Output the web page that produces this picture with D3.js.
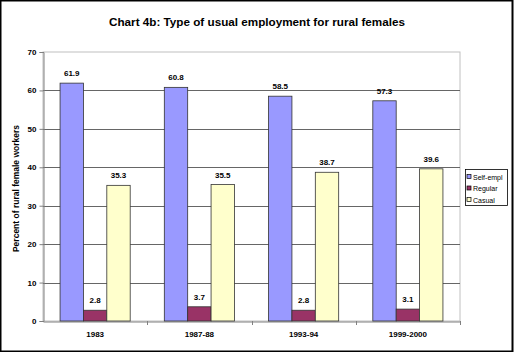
<!DOCTYPE html>
<html>
<head>
<meta charset="utf-8">
<script src="https://cdn.jsdelivr.net/npm/d3@7"></script>
<style>
  body { margin: 0; background: #fff; }
  text { font-family: Arial, "Liberation Sans", sans-serif; }
</style>
</head>
<body>
<div id="chart"></div>
<script>
// data
var periods = ["1983", "1987-88", "1993-94", "1999-2000"];
var seriesNames = ["Self-empl", "Regular", "Casual"];
var selfEmployed = [61.9, 60.8, 58.5, 57.3];
var regular = [2.8, 3.7, 2.8, 3.1];
var casual = [35.3, 35.5, 38.7, 39.6];
var yTicks = [0, 10, 20, 30, 40, 50, 60, 70];
var colors = ["#9999ff", "#993366", "#ffffcc"];

var W = 514, H = 352;
var plot = { left: 43, right: 460, top: 52, bottom: 321 };

var svg = d3.select("#chart").append("svg")
    .attr("width", W)
    .attr("height", H);

// outer frame
svg.append("rect")
    .attr("x", 0.5).attr("y", 0.5)
    .attr("width", W - 2).attr("height", H - 1)
    .attr("fill", "#fff")
    .attr("stroke", "#000")
    .attr("stroke-width", 2);

svg.append("text")
    .attr("x", 257)
    .attr("y", 26)
    .attr("text-anchor", "middle")
    .attr("font-size", "11.7px")
    .attr("font-weight", "bold")
    .text("Chart 4b: Type of usual employment for rural females");

var x0 = d3.scaleBand()
    .domain(periods)
    .range([plot.left, plot.right])
    .paddingInner(0)
    .paddingOuter(0);

var x1 = d3.scaleBand()
    .domain(seriesNames)
    .range([0, x0.bandwidth()])
    .paddingOuter(0.73)
    .paddingInner(0);

var y = d3.scaleLinear()
    .domain([0, 70])
    .range([plot.bottom, plot.top]);

// plot area border
svg.append("rect")
    .attr("x", plot.left).attr("y", plot.top)
    .attr("width", plot.right - plot.left)
    .attr("height", plot.bottom - plot.top)
    .attr("fill", "none")
    .attr("stroke", "#c0c0c0")
    .attr("stroke-width", 1);

// gridlines
svg.append("g").selectAll("line")
    .data(yTicks.filter(function (d) { return d > 0 && d < 70; }))
    .enter().append("line")
    .attr("x1", plot.left).attr("x2", plot.right)
    .attr("y1", function (d) { return Math.round(y(d)) + 0.5; })
    .attr("y2", function (d) { return Math.round(y(d)) + 0.5; })
    .attr("stroke", "#666")
    .attr("stroke-width", 1);

// y axis
var yAxis = svg.append("g")
    .attr("transform", "translate(" + (plot.left + 0.5) + ",0)")
    .call(d3.axisLeft(y).tickValues(yTicks).tickSize(4).tickPadding(3));
yAxis.select(".domain").attr("stroke", "#808080");
yAxis.selectAll(".tick line").attr("stroke", "#808080");
yAxis.selectAll("text")
    .attr("font-size", "8px")
    .attr("font-weight", "bold")
    .attr("fill", "#000");

// x axis
var xAxis = svg.append("g")
    .attr("transform", "translate(0," + (plot.bottom + 0.5) + ")")
    .call(d3.axisBottom(x0).tickSize(0).tickPadding(10));
xAxis.select(".domain").attr("stroke", "#808080");
xAxis.selectAll("text")
    .attr("font-size", "8px")
    .attr("font-weight", "bold")
    .attr("fill", "#000");
// category separators
svg.append("g").selectAll("line")
    .data(periods)
    .enter().append("line")
    .attr("x1", function (d) { return Math.round(x0(d) + x0.bandwidth()) + 0.5; })
    .attr("x2", function (d) { return Math.round(x0(d) + x0.bandwidth()) + 0.5; })
    .attr("y1", plot.bottom)
    .attr("y2", plot.bottom + 4)
    .attr("stroke", "#808080");

svg.append("text")
    .attr("transform", "translate(19," + ((plot.top + plot.bottom) / 2 + 2) + ") rotate(-90)")
    .attr("text-anchor", "middle")
    .attr("font-size", "8.5px")
    .attr("font-weight", "bold")
    .text("Percent of rural female workers");

var rows = periods.map(function (p, i) {
    return { period: p, values: [selfEmployed[i], regular[i], casual[i]] };
});

var groups = svg.append("g").selectAll("g")
    .data(rows)
    .enter().append("g")
    .attr("transform", function (d) { return "translate(" + x0(d.period) + ",0)"; });

groups.selectAll("rect")
    .data(function (d) { return d.values.map(function (v, j) { return { name: seriesNames[j], value: v, j: j }; }); })
    .enter().append("rect")
    .attr("x", function (d) { return x1(d.name); })
    .attr("y", function (d) { return y(d.value); })
    .attr("width", x1.bandwidth())
    .attr("height", function (d) { return y(0) - y(d.value); })
    .attr("fill", function (d) { return colors[d.j]; })
    .attr("stroke", "#333")
    .attr("stroke-width", 0.8);

groups.selectAll("text.val")
    .data(function (d) { return d.values.map(function (v, j) { return { name: seriesNames[j], value: v }; }); })
    .enter().append("text")
    .attr("class", "val")
    .attr("x", function (d) { return x1(d.name) + x1.bandwidth() / 2; })
    .attr("y", function (d) { return y(d.value) - 7; })
    .attr("text-anchor", "middle")
    .attr("font-size", "8px")
    .attr("font-weight", "bold")
    .text(function (d) { return d.value.toFixed(1); });

// legend
var legend = svg.append("g").attr("transform", "translate(465,169)");
legend.append("rect")
    .attr("x", 0.5).attr("y", 0.5)
    .attr("width", 42).attr("height", 36)
    .attr("fill", "#fff")
    .attr("stroke", "#000")
    .attr("stroke-width", 0.8);
var items = legend.selectAll("g.item")
    .data(seriesNames)
    .enter().append("g")
    .attr("class", "item")
    .attr("transform", function (d, i) { return "translate(2," + (4 + i * 11.5) + ")"; });
items.append("rect")
    .attr("width", 4).attr("height", 4)
    .attr("y", 1.5)
    .attr("fill", function (d, i) { return colors[i]; })
    .attr("stroke", "#000")
    .attr("stroke-width", 0.7);
items.append("text")
    .attr("x", 6)
    .attr("y", 6.5)
    .attr("font-size", "7px")
    .text(function (d) { return d; });
</script>
</body>
</html>
